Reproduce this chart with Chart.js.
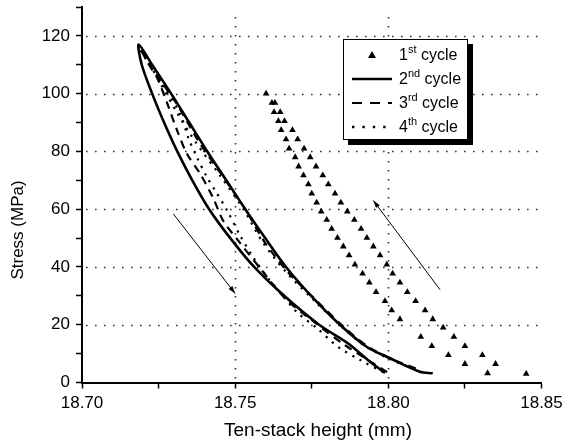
<!DOCTYPE html>
<html lang="en">
<head>
  <meta charset="UTF-8">
  <title>Stress vs ten-stack height</title>
  <script src="https://cdn.jsdelivr.net/npm/chart.js"></script>
  <style>
    body { margin: 0; background: #fff; }
    #wrap { width: 564px; height: 443px; }
  </style>
</head>
<body>
<div id="wrap"><canvas id="stressChart" width="564" height="443"></canvas></div>
<script>
  // 1st cycle (triangles)
  const cycle1Height = [18.7601, 18.7620, 18.7630, 18.7627, 18.7647, 18.7641, 18.7661, 18.7650, 18.7687,
    18.7666, 18.7704, 18.7676, 18.7725, 18.7696, 18.7745, 18.7707, 18.7764, 18.7723, 18.7786,
    18.7739, 18.7804, 18.7750, 18.7826, 18.7766, 18.7845, 18.7781, 18.7866, 18.7799, 18.7889,
    18.7815, 18.7911, 18.7834, 18.7930, 18.7853, 18.7951, 18.7872, 18.7973, 18.7891, 18.7995,
    18.7916, 18.8014, 18.7938, 18.8038, 18.7960, 18.8062, 18.7989, 18.8089, 18.8011, 18.8120,
    18.8038, 18.8145, 18.8106, 18.8179, 18.8142, 18.8214, 18.8196, 18.8250, 18.8250, 18.8307,
    18.8324, 18.8350, 18.8450];
  const cycle1Stress = [100.0, 96.8, 96.8, 93.6, 93.6, 90.5, 90.5, 87.4, 87.4,
    84.2, 84.2, 81.0, 81.0, 78.0, 78.0, 74.8, 74.8, 71.7, 71.7,
    68.6, 68.6, 65.4, 65.4, 62.3, 62.3, 59.2, 59.2, 56.3, 56.3,
    53.2, 53.2, 50.1, 50.1, 47.1, 47.1, 44.0, 44.0, 40.8, 40.8,
    37.7, 37.7, 34.6, 34.6, 31.3, 31.3, 28.2, 28.2, 25.0, 25.0,
    21.9, 21.9, 15.8, 19.0, 12.6, 15.8, 9.5, 12.6, 6.4, 9.5,
    3.2, 6.4, 3.0];

  // 2nd cycle (solid): lower branch up to the peak, then upper branch down
  const cycle2Height = [18.7989, 18.7931, 18.7869, 18.7774, 18.7660, 18.7562, 18.7484, 18.7415, 18.7360,
    18.7311, 18.7268, 18.7229, 18.7195, 18.7185,
    18.7229, 18.7291, 18.7350, 18.7409, 18.7471, 18.7533, 18.7598, 18.7666, 18.7748, 18.7842,
    18.7930, 18.7995, 18.8103, 18.8145];
  const cycle2Stress = [3.3, 8.0, 13.5, 20, 30, 40, 50, 60, 70,
    80, 90, 100, 110, 117.0,
    110, 100, 90, 80, 70, 60, 50, 40, 30, 20,
    12.3, 8.9, 3.7, 3.2];

  // 3rd cycle (dashed)
  const cycle3Height = [18.7996, 18.7859, 18.7767, 18.7663, 18.7582, 18.7510, 18.7461, 18.7428, 18.7386,
    18.7343, 18.7311, 18.7278, 18.7246, 18.7216, 18.7190,
    18.7226, 18.7308, 18.7380, 18.7454, 18.7530, 18.7595, 18.7673, 18.7761, 18.7849, 18.7927,
    18.8006, 18.8103];
  const cycle3Stress = [3.6, 12.9, 20.2, 29.1, 39.5, 49.1, 56.0, 63.9, 72.2,
    79.1, 87.1, 96.7, 105.3, 110.5, 115.7,
    109.1, 96.7, 83.6, 72.2, 60.5, 48.8, 38.1, 28.8, 19.8, 12.9,
    8.4, 4.3];

  // 4th cycle (dotted)
  const cycle4Height = [18.7983, 18.7908, 18.7836, 18.7767, 18.7702, 18.7647, 18.7608, 18.7559, 18.7516,
    18.7474, 18.7435, 18.7409, 18.7376, 18.7347, 18.7321, 18.7272, 18.7223, 18.7193,
    18.7223, 18.7310, 18.7375, 18.7451, 18.7526, 18.7591, 18.7670, 18.7758, 18.7846, 18.7924,
    18.8006, 18.8091];
  const cycle4Stress = [3.6, 7.8, 12.3, 18.8, 24.3, 31.2, 36.0, 43.3, 50.9,
    59.5, 66.4, 70.9, 77.8, 84.7, 92.9, 101.6, 109.5, 114.7,
    109.8, 93.4, 82.6, 71.6, 60.2, 48.4, 37.8, 28.4, 19.5, 12.6,
    8.1, 4.3];

  // direction arrows: [fromHeight, fromStress, toHeight, toStress]
  const arrows = [
    [18.7298, 58.4, 18.7500, 30.8],
    [18.8169, 32.1, 18.7951, 63.0]
  ];

  const gridStress = [20, 40, 60, 80, 100, 120];
  const gridHeight = [18.75, 18.80];
  const legendLabels = [['1', 'st', ' cycle'], ['2', 'nd', ' cycle'], ['3', 'rd', ' cycle'], ['4', 'th', ' cycle']];

  const FONT = '"Liberation Sans", Arial, sans-serif';

  function pts(xs, ys) {
    return xs.map((x, i) => ({ x: x, y: ys[i] }));
  }

  // dotted grid, arrows, legend box and axis titles
  const decor = {
    id: 'decor',
    beforeDatasetsDraw(chart) {
      const { ctx, chartArea: a, scales: { x, y } } = chart;
      ctx.save();
      ctx.strokeStyle = '#333';
      ctx.lineWidth = 1.6;
      ctx.setLineDash([1.6, 7.4]);
      gridStress.forEach(v => {
        const py = Math.round(y.getPixelForValue(v)) + 0.5;
        ctx.beginPath(); ctx.moveTo(a.left + 4, py); ctx.lineTo(a.right, py); ctx.stroke();
      });
      gridHeight.forEach(v => {
        const px = Math.round(x.getPixelForValue(v)) + 0.5;
        ctx.beginPath(); ctx.moveTo(px, a.bottom - 4); ctx.lineTo(px, a.top + 6); ctx.stroke();
      });
      ctx.restore();
    },
    afterDraw(chart) {
      const { ctx, chartArea: a, scales: { x, y } } = chart;
      ctx.save();
      // arrows
      ctx.strokeStyle = '#000';
      ctx.fillStyle = '#000';
      ctx.lineWidth = 1;
      arrows.forEach(([x0, y0, x1, y1]) => {
        const p0 = [x.getPixelForValue(x0), y.getPixelForValue(y0)];
        const p1 = [x.getPixelForValue(x1), y.getPixelForValue(y1)];
        const ang = Math.atan2(p1[1] - p0[1], p1[0] - p0[0]);
        ctx.beginPath(); ctx.moveTo(p0[0], p0[1]); ctx.lineTo(p1[0], p1[1]); ctx.stroke();
        ctx.beginPath();
        ctx.moveTo(p1[0], p1[1]);
        ctx.lineTo(p1[0] - 8 * Math.cos(ang - 0.3), p1[1] - 8 * Math.sin(ang - 0.3));
        ctx.lineTo(p1[0] - 8 * Math.cos(ang + 0.3), p1[1] - 8 * Math.sin(ang + 0.3));
        ctx.closePath(); ctx.fill();
      });

      // legend
      const L = 343, T = 39, W = 125, H = 101;
      ctx.fillStyle = '#000';
      ctx.fillRect(L + 5, T + 5, W, H);
      ctx.fillStyle = '#fff';
      ctx.fillRect(L, T, W, H);
      ctx.strokeStyle = '#000';
      ctx.lineWidth = 1;
      ctx.strokeRect(L + 0.5, T + 0.5, W - 1, H - 1);
      const rows = [55, 79, 103, 127];
      const sx0 = 352, sx1 = 392, tx = 399;
      // triangle marker
      ctx.fillStyle = '#000';
      ctx.beginPath();
      ctx.moveTo(372, rows[0] - 4); ctx.lineTo(376, rows[0] + 3); ctx.lineTo(368, rows[0] + 3);
      ctx.closePath(); ctx.fill();
      const styles = [null, { w: 2.6, dash: [] }, { w: 2.2, dash: [10, 8] }, { w: 2.4, dash: [2.4, 8] }];
      for (let i = 1; i < 4; i++) {
        ctx.lineWidth = styles[i].w;
        ctx.setLineDash(styles[i].dash);
        ctx.beginPath(); ctx.moveTo(sx0, rows[i]); ctx.lineTo(sx1, rows[i]); ctx.stroke();
      }
      ctx.setLineDash([]);
      ctx.textBaseline = 'middle';
      ctx.textAlign = 'left';
      legendLabels.forEach((parts, i) => {
        let cx = tx;
        const cy = rows[i] + 1;
        ctx.font = '16px ' + FONT;
        ctx.fillText(parts[0], cx, cy);
        cx += ctx.measureText(parts[0]).width;
        ctx.font = '11px ' + FONT;
        ctx.fillText(parts[1], cx, cy - 6);
        cx += ctx.measureText(parts[1]).width;
        ctx.font = '16px ' + FONT;
        ctx.fillText(parts[2], cx, cy);
      });

      // axis titles
      ctx.font = '19px ' + FONT;
      ctx.textAlign = 'center';
      ctx.fillText('Ten-stack height (mm)', 318, 431);
      ctx.font = '17px ' + FONT;
      ctx.translate(18, 230);
      ctx.rotate(-Math.PI / 2);
      ctx.fillText('Stress (MPa)', 0, 0);
      ctx.restore();
    }
  };

  const ctx = document.getElementById('stressChart').getContext('2d');
  new Chart(ctx, {
    type: 'scatter',
    data: {
      datasets: [
        {
          label: '1st cycle',
          data: pts(cycle1Height, cycle1Stress),
          pointStyle: 'triangle',
          pointRadius: 3.9,
          backgroundColor: '#000',
          borderColor: '#000',
          borderWidth: 0,
          showLine: false
        },
        {
          label: '2nd cycle',
          data: pts(cycle2Height, cycle2Stress),
          showLine: true,
          borderColor: '#000',
          borderWidth: 2.6,
          pointRadius: 0,
          tension: 0.3
        },
        {
          label: '3rd cycle',
          data: pts(cycle3Height, cycle3Stress),
          showLine: true,
          borderColor: '#000',
          borderWidth: 2.2,
          borderDash: [8, 6],
          pointRadius: 0,
          tension: 0.3
        },
        {
          label: '4th cycle',
          data: pts(cycle4Height, cycle4Stress),
          showLine: true,
          borderColor: '#000',
          borderWidth: 2.2,
          borderDash: [2.2, 6],
          pointRadius: 0,
          tension: 0.3
        }
      ]
    },
    options: {
      responsive: false,
      animation: false,
      layout: { padding: { top: 7, right: 22.5, left: 0, bottom: 0 } },
      plugins: {
        legend: { display: false },
        tooltip: { enabled: false }
      },
      scales: {
        x: {
          type: 'linear',
          min: 18.70,
          max: 18.85,
          afterFit: s => { s.height = 60.5; s.paddingLeft = 0; s.paddingRight = 0; },
          border: { display: true, color: '#000', width: 2 },
          grid: { drawOnChartArea: false, drawTicks: true, tickLength: 6, tickColor: '#000', tickWidth: 1.5 },
          ticks: {
            stepSize: 0.025,
            padding: 5,
            color: '#000',
            font: { family: FONT, size: 17 },
            maxRotation: 0,
            autoSkip: false,
            callback: v => Math.abs(v * 20 - Math.round(v * 20)) < 1e-6 ? v.toFixed(2) : ''
          }
        },
        y: {
          min: 0,
          max: 130,
          afterFit: s => { s.width = 82; s.paddingTop = 0; s.paddingBottom = 0; },
          border: { display: true, color: '#000', width: 2 },
          grid: { drawOnChartArea: false, drawTicks: true, tickLength: 6, tickColor: '#000', tickWidth: 1.5 },
          ticks: {
            stepSize: 10,
            padding: 6,
            color: '#000',
            font: { family: FONT, size: 17 },
            autoSkip: false,
            callback: v => v % 20 === 0 ? String(v) : ''
          }
        }
      }
    },
    plugins: [decor]
  });
</script>
</body>
</html>
